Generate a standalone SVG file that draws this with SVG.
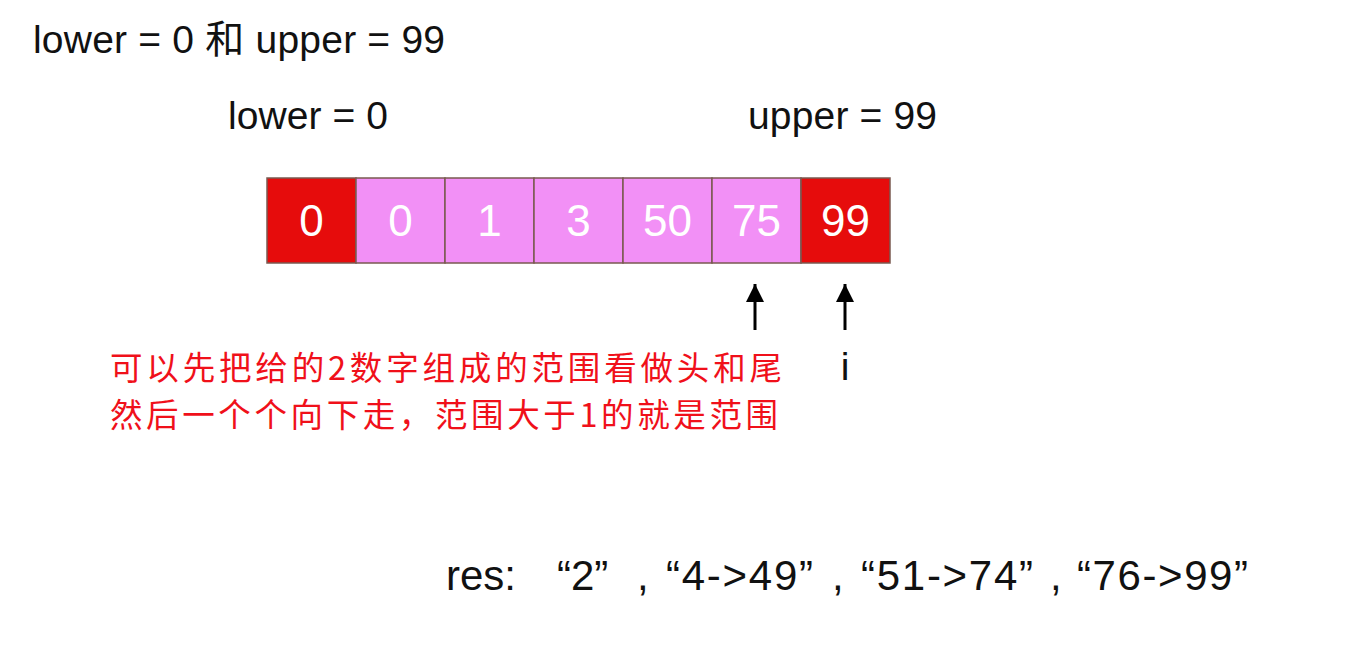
<svg xmlns="http://www.w3.org/2000/svg" width="1354" height="662" viewBox="0 0 1354 662">
<style>
.t{font-family:"Liberation Sans","Noto Sans CJK SC",sans-serif;fill:#111}
.cell{stroke:#7a5a50;stroke-width:1.5}
.red{fill:#e60c0c}
.pink{fill:#f290f6}
.num{font-family:"Liberation Sans",sans-serif;font-size:44px;fill:#fff;text-anchor:middle}
.cn{font-family:"Noto Sans CJK SC",sans-serif;font-size:32.5px;fill:#f0101a}
.arr{stroke:#000;stroke-width:3}
</style>
<defs>
<marker id="ah" viewBox="0 0 10 10" refX="10" refY="5" markerWidth="18" markerHeight="19" markerUnits="userSpaceOnUse" orient="auto">
<path d="M0,0 L10,5 L0,10 Z" fill="#000"/>
</marker>
</defs>
<rect width="1354" height="662" fill="#fff"/>
<text class="t" x="33" y="53" font-size="39" textLength="412" lengthAdjust="spacing">lower = 0 和 upper = 99</text>
<g id="lower"><text class="t" x="228" y="129" font-size="39" textLength="160" lengthAdjust="spacing">lower = 0</text></g>
<g id="upper"><text class="t" x="748" y="129" font-size="39" textLength="189" lengthAdjust="spacing">upper = 99</text></g>
<g id="c0"><rect class="cell red" x="267" y="178" width="89" height="85"/><text class="num" x="311.5" y="236">0</text></g>
<g id="c1"><rect class="cell pink" x="356" y="178" width="89" height="85"/><text class="num" x="400.5" y="236">0</text></g>
<g id="c2"><rect class="cell pink" x="445" y="178" width="89" height="85"/><text class="num" x="489.5" y="236">1</text></g>
<g id="c3"><rect class="cell pink" x="534" y="178" width="89" height="85"/><text class="num" x="578.5" y="236">3</text></g>
<g id="c4"><rect class="cell pink" x="623" y="178" width="89" height="85"/><text class="num" x="667.5" y="236">50</text></g>
<g id="c5"><rect class="cell pink" x="712" y="178" width="89" height="85"/><text class="num" x="756.5" y="236">75</text></g>
<g id="c6"><rect class="cell red" x="801" y="178" width="89" height="85"/><text class="num" x="845.5" y="236">99</text></g>
<g id="connectors">
<line class="arr" x1="755" y1="330" x2="755" y2="284" marker-end="url(#ah)"/>
<line class="arr" x1="845" y1="330" x2="845" y2="284" marker-end="url(#ah)"/>
</g>
<g id="i"><text class="t" x="845" y="380" font-size="39" text-anchor="middle">i</text></g>
<g id="note">
<text class="cn" x="110" y="380" textLength="672" lengthAdjust="spacing">可以先把给的2数字组成的范围看做头和尾</text>
<text class="cn" x="110" y="427" textLength="668" lengthAdjust="spacing">然后一个个向下走，范围大于1的就是范围</text>
</g>
<g id="res">
<text class="t" x="446" y="590" font-size="42">res:</text>
<text class="t" x="557" y="590" font-size="42">“2”</text>
<text class="t" x="637" y="590" font-size="42">,</text>
<text class="t" x="666" y="590" font-size="42" textLength="147" lengthAdjust="spacing">“4-&gt;49”</text>
<text class="t" x="832" y="590" font-size="42">,</text>
<text class="t" x="861" y="590" font-size="42" textLength="172" lengthAdjust="spacing">“51-&gt;74”</text>
<text class="t" x="1050" y="590" font-size="42">,</text>
<text class="t" x="1077" y="590" font-size="42" textLength="171" lengthAdjust="spacing">“76-&gt;99”</text>
</g>
</svg>
